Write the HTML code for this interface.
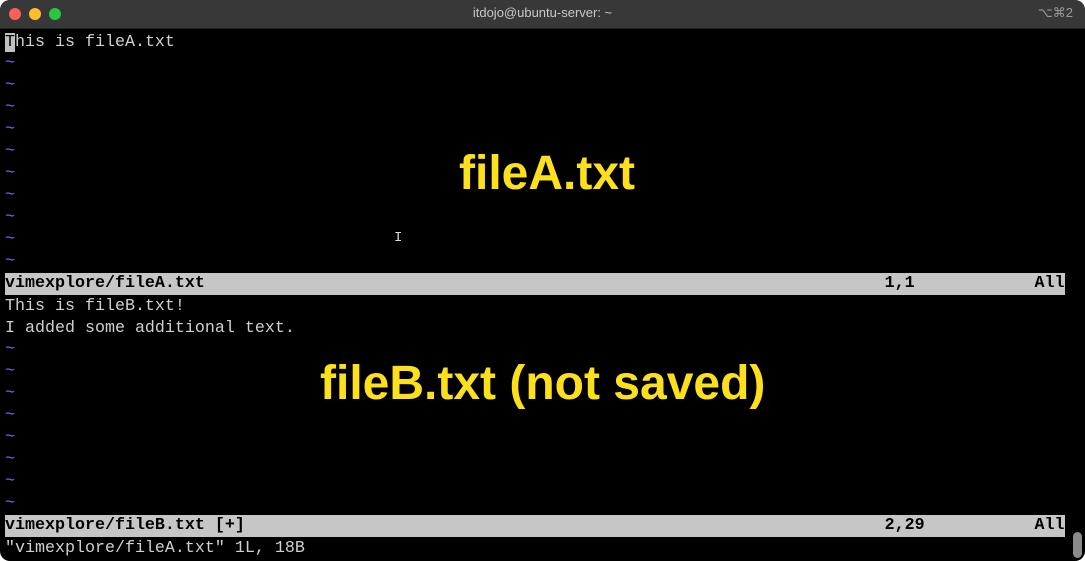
<!DOCTYPE html>
<html><head><style>
html,body{margin:0;padding:0;width:1085px;height:561px;overflow:hidden;background:#fff}
.win{position:absolute;left:0;top:0;width:1085px;height:561px;background:#000;border-radius:10px;overflow:hidden}
.title{position:absolute;left:0;top:0;width:1085px;height:28px;background:#383838;color:#c8c8c8;font:13px "Liberation Sans",sans-serif;text-align:center;line-height:26px;border-bottom:1px solid #222}
.dot{position:absolute;top:8px;width:12px;height:12px;border-radius:50%}
.term{position:absolute;left:5px;top:31px;width:1060px;font:16.67px/22px "Liberation Mono",monospace;color:#d0d0d0}
.row{height:22px;white-space:pre;position:relative}
.row>b{font-weight:normal;position:relative;top:1px}
.t{color:#6c6cff}
.st{background:#c6c6c6;color:#000;font-weight:bold}
.big{position:absolute;color:#fce01c;font:bold 48px "Liberation Sans",sans-serif;white-space:nowrap}
</style></head><body>
<div class="win">
<div class="title">itdojo@ubuntu-server: ~
<div class="dot" style="left:9px;background:#fe5f57"></div>
<div class="dot" style="left:29px;background:#febc2e"></div>
<div class="dot" style="left:49px;background:#28c840"></div>
<span style="position:absolute;right:12px;top:0;color:#999">⌥⌘2</span></div>
<div class="term"><div class="row"><b><span style="background:#c0c0c0;color:#000">T</span>his is fileA.txt</b></div><div class="row t">~</div><div class="row t">~</div><div class="row t">~</div><div class="row t">~</div><div class="row t">~</div><div class="row t">~</div><div class="row t">~</div><div class="row t">~</div><div class="row t">~</div><div class="row t">~</div><div class="row st">vimexplore/fileA.txt                                                                    1,1            All</div><div class="row"><b>This is fileB.txt!</b></div><div class="row"><b>I added some additional text.</b></div><div class="row t">~</div><div class="row t">~</div><div class="row t">~</div><div class="row t">~</div><div class="row t">~</div><div class="row t">~</div><div class="row t">~</div><div class="row t">~</div><div class="row st">vimexplore/fileB.txt [+]                                                                2,29           All</div><div class="row"><b>"vimexplore/fileA.txt" 1L, 18B</b></div></div>
<div class="big" style="left:459px;top:146px">fileA.txt</div>
<div class="big" style="left:320px;top:356px">fileB.txt (not saved)</div>
<div style="position:absolute;left:1073px;top:532px;width:9px;height:26px;border-radius:5px;background:#8a8a8a"></div>
<div style="position:absolute;left:394px;top:230px;color:#ddd;font:14px 'Liberation Mono',monospace">I</div>
</div>
</body></html>
